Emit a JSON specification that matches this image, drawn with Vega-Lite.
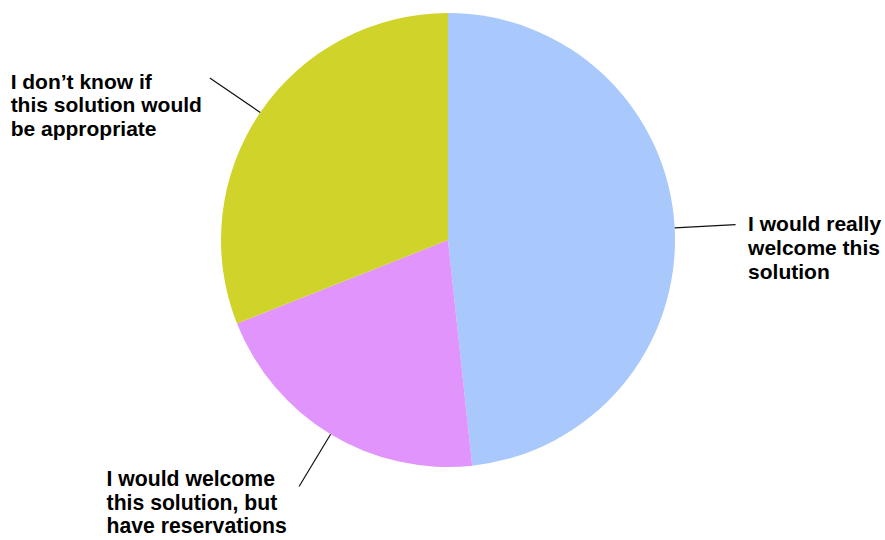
{
  "$schema": "https://vega.github.io/schema/vega-lite/v6.json",
  "width": 454,
  "height": 454,
  "autosize": {"type": "none"},
  "padding": {"left": 221, "top": 13, "right": 210, "bottom": 73},
  "background": "white",
  "config": {"view": {"stroke": null}},
  "data": {
    "values": [
      {"key": "really", "answer": "I would really welcome this solution", "label": ["I would really", "welcome this", "solution"], "value": 48.3, "order": 1},
      {"key": "reservations", "answer": "I would welcome this solution, but have reservations", "label": ["I would welcome", "this solution, but", "have reservations"], "value": 20.7, "order": 2},
      {"key": "unknown", "answer": "I don't know if this solution would be appropriate", "label": ["I don\u2019t know if", "this solution would", "be appropriate"], "value": 31.0, "order": 3}
    ]
  },
  "transform": [
    {"stack": "value", "groupby": [], "sort": [{"field": "order", "order": "ascending"}], "as": ["v0", "v1"]},
    {"calculate": "(datum.v0 + datum.v1) / 2", "as": "mid"}
  ],
  "layer": [
    {
      "mark": {"type": "arc"},
      "encoding": {
        "theta": {"field": "v0", "type": "quantitative", "scale": {"domain": [0, 100]}},
        "theta2": {"field": "v1"},
        "color": {
          "field": "answer",
          "type": "nominal",
          "scale": {
            "domain": ["I would really welcome this solution", "I would welcome this solution, but have reservations", "I don't know if this solution would be appropriate"],
            "range": ["#a9c8fb", "#e194fb", "#cfd32a"]
          },
          "legend": null
        }
      }
    },
    {
      "mark": {"type": "arc", "filled": false, "stroke": "#111111", "strokeWidth": 1.2},
      "encoding": {
        "theta": {"field": "mid", "type": "quantitative"},
        "theta2": {"field": "mid"},
        "radius": {"value": 288},
        "radius2": {"value": 227}
      }
    },
    {
      "transform": [{"filter": "datum.key == 'really'"}],
      "mark": {"type": "text", "align": "left", "baseline": "alphabetic", "font": "Liberation Sans", "fontWeight": "bold", "fontSize": 21, "lineHeight": 24, "color": "black", "dx": -1.5, "dy": 7},
      "encoding": {
        "theta": {"field": "mid", "type": "quantitative"},
        "radius": {"value": 302},
        "text": {"field": "label"}
      }
    },
    {
      "transform": [{"filter": "datum.key == 'reservations'"}],
      "mark": {"type": "text", "align": "left", "baseline": "alphabetic", "font": "Liberation Sans", "fontWeight": "bold", "fontSize": 21.2, "lineHeight": 23.5, "color": "black", "dx": -193, "dy": 0.5},
      "encoding": {
        "theta": {"field": "mid", "type": "quantitative"},
        "radius": {"value": 287},
        "text": {"field": "label"}
      }
    },
    {
      "transform": [{"filter": "datum.key == 'unknown'"}],
      "mark": {"type": "text", "align": "left", "baseline": "alphabetic", "font": "Liberation Sans", "fontWeight": "bold", "fontSize": 21, "lineHeight": 23.5, "color": "black", "dx": -200, "dy": 10},
      "encoding": {
        "theta": {"field": "mid", "type": "quantitative"},
        "radius": {"value": 287},
        "text": {"field": "label"}
      }
    }
  ]
}
